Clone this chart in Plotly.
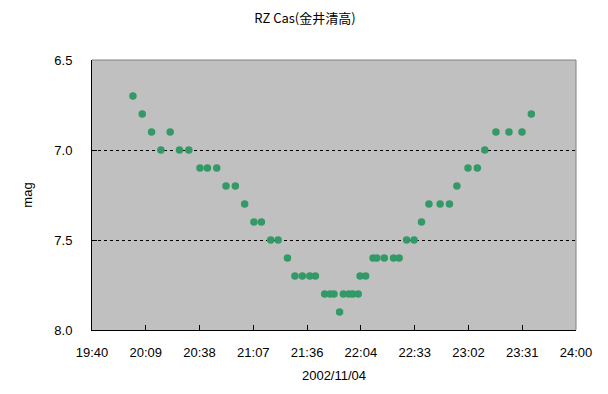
import plotly.graph_objects as go

title_text = "RZ Cas(金井清高)"
x_title = "2002/11/04"
y_title = "mag"

times = ["20:02", "20:07", "20:12", "20:17", "20:22", "20:27", "20:32", "20:38", "20:42", "20:47",
         "20:52", "20:57", "21:02", "21:07", "21:11", "21:16", "21:20", "21:25", "21:29", "21:33",
         "21:37", "21:40", "21:45", "21:48", "21:50", "21:53", "21:55", "21:58", "22:00", "22:03",
         "22:04", "22:07", "22:11", "22:13", "22:17", "22:22", "22:25", "22:29", "22:33", "22:37",
         "22:41", "22:47", "22:52", "22:56", "23:02", "23:07", "23:11", "23:17", "23:24", "23:31",
         "23:36"]
mags = [6.7, 6.8, 6.9, 7.0, 6.9, 7.0, 7.0, 7.1, 7.1, 7.1,
        7.2, 7.2, 7.3, 7.4, 7.4, 7.5, 7.5, 7.6, 7.7, 7.7,
        7.7, 7.7, 7.8, 7.8, 7.8, 7.9, 7.8, 7.8, 7.8, 7.8,
        7.7, 7.7, 7.6, 7.6, 7.6, 7.6, 7.6, 7.5, 7.5, 7.4,
        7.3, 7.3, 7.3, 7.2, 7.1, 7.1, 7.0, 6.9, 6.9, 6.9,
        6.8]

x_tick_labels = ["19:40", "20:09", "20:38", "21:07", "21:36", "22:04", "22:33", "23:02", "23:31", "24:00"]
y_ticks = [6.5, 7.0, 7.5, 8.0]

def to_min(s):
    h, m = s.split(":")
    return int(h) * 60 + int(m)

x_start = to_min(x_tick_labels[0])
x_end = to_min(x_tick_labels[-1])
n = len(x_tick_labels)
x_tickvals = [x_start + (x_end - x_start) * i / (n - 1) for i in range(n)]
xs = [to_min(t) for t in times]

font_num = "Liberation Sans, Arial, sans-serif"
font_cjk = "Noto Sans CJK JP, sans-serif"

fig = go.Figure()
fig.add_trace(go.Scatter(
    x=xs, y=mags, mode="markers",
    marker=dict(color="#339966", size=7.5, line=dict(width=0)),
    hoverinfo="skip", showlegend=False,
))

fig.update_layout(
    width=608, height=394,
    margin=dict(l=92, r=32, t=60, b=64),
    paper_bgcolor="white",
    plot_bgcolor="#C0C0C0",
    title=dict(text=title_text, x=(305 - 92) / 484, xref="paper", xanchor="center",
               y=1 - 18 / 394, yref="container", yanchor="middle",
               font=dict(family=font_cjk, size=13, color="black")),
    font=dict(family=font_num, size=13, color="black"),
    showlegend=False,
)

fig.update_xaxes(
    range=[x_start, x_end], tickvals=x_tickvals, ticktext=x_tick_labels,
    showgrid=False, zeroline=False,
    showline=True, linecolor="black", linewidth=1,
    ticks="inside", ticklen=5, tickcolor="black",
    ticklabelstandoff=10,
    title=dict(text=x_title, standoff=12, font=dict(family=font_num, size=13)),
)
fig.update_yaxes(
    range=[y_ticks[-1], y_ticks[0]], tickvals=y_ticks, tickformat=".1f",
    showgrid=True, gridcolor="black", griddash="3px,3px", gridwidth=1,
    zeroline=False,
    showline=True, linecolor="black", linewidth=1,
    ticks="inside", ticklen=5, tickcolor="black",
    ticklabelstandoff=16,
    title=dict(text=y_title, standoff=18, font=dict(family=font_num, size=13)),
)

# gray top and right borders
fig.add_shape(type="line", xref="paper", yref="paper", x0=0, x1=1, y0=1, y1=1,
              line=dict(color="#808080", width=1), layer="above")
fig.add_shape(type="line", xref="paper", yref="paper", x0=1, x1=1, y0=0, y1=1,
              line=dict(color="#808080", width=1), layer="above")

fig.write_html("out.html", config={"displayModeBar": False},
               post_script="document.body.style.margin='0';")
